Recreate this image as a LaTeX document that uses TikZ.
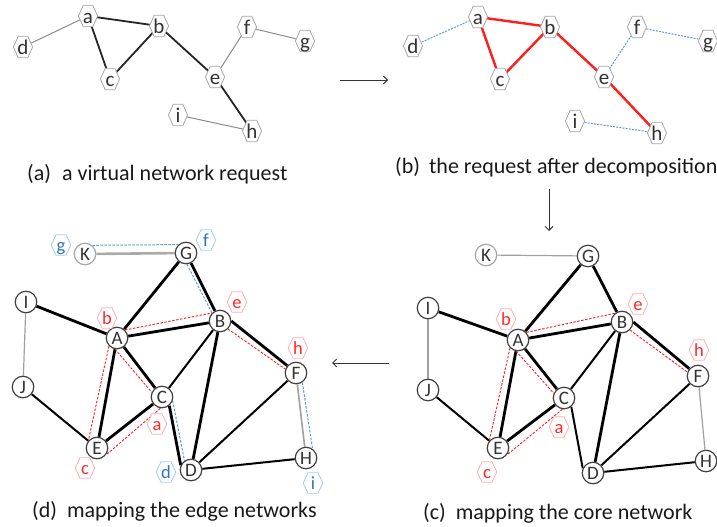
\documentclass[tikz,border=0pt]{standalone}
\usepackage{fontspec}
\setmainfont{Carlito}
\usetikzlibrary{calc,backgrounds,arrows.meta}
\definecolor{txt}{HTML}{333333}
\definecolor{hexgray}{HTML}{A6A6A6}
\definecolor{edgegray}{HTML}{A0A0A0}
\definecolor{vgrayc}{HTML}{8C8C8C}
\definecolor{myred}{HTML}{FF1E1E}
\definecolor{labred}{HTML}{FF2828}
\definecolor{labredb}{HTML}{FFAFAF}
\definecolor{myblue}{HTML}{5B9BD5}
\definecolor{labblue}{HTML}{2E75B6}
\definecolor{labblueb}{HTML}{A8CCEA}
\definecolor{circ}{HTML}{404040}
\newcommand\hexoutline[5]{\path[draw=#1,fill=white,line width=#5]
  ($(path picture bounding box.center)+(-#2,0)$) -- ++({#2-#4},{-#3}) -- ++({2*#4},0)
  -- ++({#2-#4},{#3}) -- ++({#4-#2},{#3}) -- ++({-2*#4},0) -- cycle;}
\begin{document}
\begin{tikzpicture}[x=1pt,y=-1pt,
  vhex/.style={rectangle,minimum width=22pt,minimum height=25pt,inner sep=0pt,
    path picture={\hexoutline{hexgray}{9.6}{10.7}{4.8}{0.8pt}},
    font=\fontsize{21}{21}\selectfont,text=txt,text height=14.6pt,text depth=0pt},
  rlab/.style={rectangle,minimum width=22pt,minimum height=24pt,inner sep=0pt,
    path picture={\hexoutline{labredb}{9.8}{10.2}{5}{0.8pt}},
    font=\fontsize{18.5}{18.5}\selectfont,text=labred,text height=13.2pt,text depth=0pt},
  blab/.style={rlab,path picture={\hexoutline{labblueb}{9.8}{10.2}{5}{0.8pt}},text=labblue},
  sub/.style={circle,draw=circ,line width=1.2pt,fill=white,minimum size=21.5pt,inner sep=0pt,
    font=\fontsize{19}{19}\selectfont,text=txt,text height=12.2pt,text depth=0pt},
  subk/.style={sub,draw=hexgray},
  thk/.style={line width=2.8pt,black},
  med/.style={line width=2pt,black},
  thn/.style={line width=1.2pt,edgegray},
  rdash/.style={myred,line width=0.9pt,dash pattern=on 2.5pt off 1.5pt},
  bdash/.style={myblue,line width=1pt,dash pattern=on 2.5pt off 1.5pt},
  vblack/.style={line width=1.8pt,black!85},
  vgray/.style={line width=1pt,vgrayc},
  vred/.style={line width=2.4pt,myred},
  vblue/.style={line width=1pt,myblue,dash pattern=on 2pt off 1.2pt},
  arr/.style={-{Straight Barb[length=4pt,width=8pt]},line width=0.9pt,black!80},
  captxt/.style={font=\fontsize{22}{22}\selectfont,text=black!90,inner sep=0pt,anchor=west}
]
\useasboundingbox (0,0) rectangle (717,527);

% ---------- (a) ----------
\node[vhex] (aa) at (88,16) {a};
\node[vhex] (ab) at (159,26) {b};
\node[vhex] (ac) at (110,79) {c};
\node[vhex] (ad) at (23,47) {d};
\node[vhex] (ae) at (215,77) {e};
\node[vhex] (af) at (247,27) {f};
\node[vhex] (ag) at (305,41) {g};
\node[vhex] (ai) at (178,115) {i};
\node[vhex] (ah) at (252,131) {h};
\node[captxt] (capa) at (27,174) {(a)\hspace{11pt}a virtual network request};

% ---------- (b) ----------
\node[vhex] (ba) at (478,17) {a};
\node[vhex] (bb) at (550,27) {b};
\node[vhex] (bc) at (500,79) {c};
\node[vhex] (bd) at (413,46) {d};
\node[vhex] (be) at (604,77) {e};
\node[vhex] (bf) at (637,27) {f};
\node[vhex] (bg) at (708,41) {g};
\node[vhex] (bi) at (575,121) {i};
\node[vhex] (bh) at (657,133) {h};
\node[captxt] (capb) at (395,167) {(b)\hspace{9pt}the request after decomposition};

% ---------- (c) ----------
\node[subk] (cK) at (486,255) {K};
\node[sub] (cG) at (588,256) {G};
\node[sub] (cI) at (428,308) {I};
\node[sub] (cJ) at (428,390) {J};
\node[sub] (cA) at (518,340) {A};
\node[sub] (cB) at (622,322) {B};
\node[sub] (cC) at (564,398) {C};
\node[sub] (cE) at (498,448) {E};
\node[sub] (cD) at (593,473) {D};
\node[sub] (cF) at (698,376) {F};
\node[sub] (cH) at (706,461) {H};
\node[rlab] (clb) at (506,319) {b};
\node[rlab] (cle) at (638,304) {e};
\node[rlab] (clh) at (699,350) {h};
\node[rlab] (cla) at (559,427) {a};
\node[rlab] (clc) at (487,472) {c};
\node[captxt] (capc) at (423,513) {(c)\hspace{10pt}mapping the core network};

% ---------- (d) ----------
\node[subk] (dK) at (85,254) {K};
\node[sub] (dG) at (186,253) {G};
\node[sub] (dI) at (26,302) {I};
\node[sub] (dJ) at (23,387) {J};
\node[sub] (dA) at (117,338) {A};
\node[sub] (dB) at (220,321) {B};
\node[sub] (dC) at (162,397) {C};
\node[sub] (dE) at (97,448) {E};
\node[sub] (dD) at (191,470) {D};
\node[sub] (dF) at (296,373) {F};
\node[sub] (dH) at (306,458) {H};
\node[blab] (dlg) at (61,245) {g};
\node[blab] (dlf) at (206,240) {f};
\node[rlab] (dlb) at (107,318) {b};
\node[rlab] (dle) at (237,302) {e};
\node[rlab] (dlh) at (298,348) {h};
\node[rlab] (dla) at (157,424) {a};
\node[rlab] (dlc) at (85,468) {c};
\node[blab] (dld) at (166,472) {d};
\node[blab] (dli) at (313,483) {i};
\node[captxt] (capd) at (32,511) {(d)\hspace{10pt}mapping the edge networks};

% ---------- arrows ----------
\coordinate (r1s) at (340,80); \coordinate (r1e) at (388,80);
\coordinate (r2s) at (549,189); \coordinate (r2e) at (549,231);
\coordinate (r3s) at (389,363); \coordinate (r3e) at (332,363);
\draw[arr] (r1s) -- (r1e);
\draw[arr] (r2s) -- (r2e);
\draw[arr] (r3s) -- (r3e);

\begin{scope}[on background layer]
% (a)
\draw[vgray] (ad.center) -- (aa.center);
\draw[vblack] (aa.center) -- (ab.center);
\draw[vblack] (aa.center) -- (ac.center);
\draw[vblack] (ab.center) -- (ac.center);
\draw[vblack] (ab.center) -- (ae.center);
\draw[vblack] (ae.center) -- (ah.center);
\draw[vgray] (ae.center) -- (af.center);
\draw[vgray] (af.center) -- (ag.center);
\draw[vgray] (ai.center) -- (ah.center);
% (b)
\draw[vblue] (bd.center) -- (ba.center);
\draw[vred] (ba.center) -- (bb.center);
\draw[vred] (ba.center) -- (bc.center);
\draw[vred] (bb.center) -- (bc.center);
\draw[vred] (bb.center) -- (be.center);
\draw[vred] (be.center) -- (bh.center);
\draw[vblue] (be.center) -- (bf.center);
\draw[vblue] (bf.center) -- (bg.center);
\draw[vblue] (bi.center) -- (bh.center);
% (c)
\draw[thn] (cK) -- (cG);
\draw[thn] (cI) -- (cJ);
\draw[thn] (cF) -- (cH);
\draw[thk] (cG) -- (cA);
\draw[thk] (cG) -- (cB);
\draw[thk] (cI) -- (cA);
\draw[thk] (cA) -- (cB);
\draw[thk] (cA) -- (cC);
\draw[thk] (cA) -- (cE);
\draw[thk] (cC) -- (cE);
\draw[thk] (cB) -- (cD);
\draw[thk] (cB.0) -- (cF.140);
\draw[med] (cJ) -- (cE);
\draw[med] (cB) -- (cC);
\draw[med] (cD) -- (cF);
\draw[med] (cD) -- (cH);
\draw[med] (cC.-50) -- (cD.155);
\draw[rdash] (cA.42) -- (cB.130);
\draw[rdash] (cA.-100) -- (cC.155);
\draw[rdash] (cA.-135) -- (cE.140);
\draw[rdash] (cC.-98) -- (cE.-38);
\draw[rdash] (cB.-45) -- (cF.160);
% (d)
\draw[line width=2.6pt,edgegray!90] (dK) -- (dG);
\draw[thn] (dI) -- (dJ);
\draw[line width=1.6pt,edgegray] (dF) -- (dH);
\draw[thk] (dG) -- (dA);
\draw[thk] (dG) -- (dB);
\draw[thk] (dI) -- (dA);
\draw[thk] (dA) -- (dB);
\draw[thk] (dA) -- (dC);
\draw[thk] (dA) -- (dE);
\draw[thk] (dC) -- (dE);
\draw[thk] (dB) -- (dD);
\draw[thk] (dB.0) -- (dF.140);
\draw[med] (dJ) -- (dE);
\draw[med] (dB) -- (dC);
\draw[med] (dD) -- (dF);
\draw[med] (dD) -- (dH);
\draw[thk] (dC.-50) -- (dD.155);
\draw[rdash] (dA.45) -- (dB.135);
\draw[rdash] (dA.-100) -- (dC.155);
\draw[rdash] (dA.-135) -- (dE.140);
\draw[rdash] (dC.-98) -- (dE.-38);
\draw[rdash] (dB.-45) -- (dF.160);
\draw[bdash] (dK.50) -- (dG.132);
\draw[bdash] (dG.-85) -- (dB.135);
\draw[bdash] (dC.-20) -- (dD.125);
\draw[bdash] (dF.-56) -- (dH.55);
\end{scope}
\end{tikzpicture}
\end{document}
